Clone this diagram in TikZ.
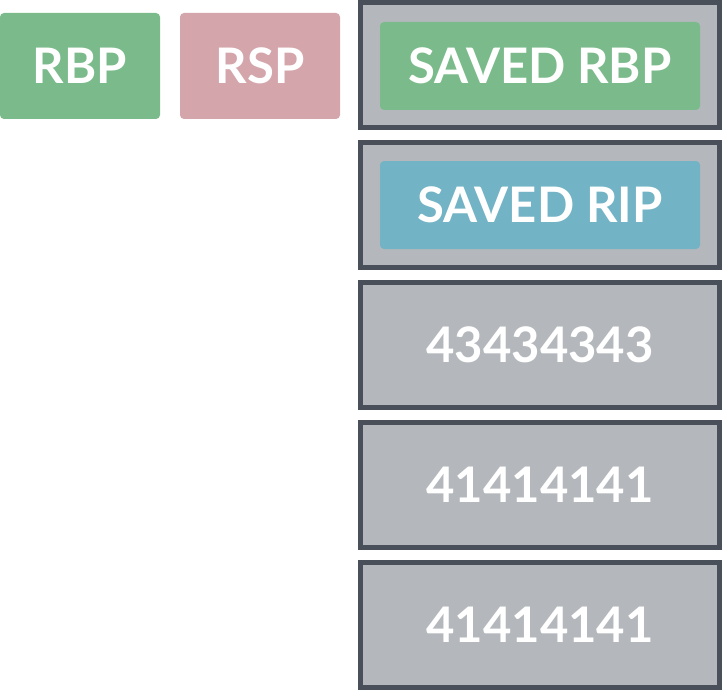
\documentclass[tikz,border=0pt]{standalone}
\usepackage{fontspec}
\setmainfont{Lato}
\definecolor{regGreen}{HTML}{7BBB8B}
\definecolor{regPink}{HTML}{D4A6AC}
\definecolor{ripBlue}{HTML}{72B3C5}
\definecolor{slotGray}{HTML}{B4B8BC}
\definecolor{slotEdge}{HTML}{4A5059}
\tikzset{
  bigtext/.style={text=white,font=\fontsize{49}{50}\selectfont\bfseries,
    inner sep=0pt,text height=35pt,text depth=0pt},
  reg/.style={bigtext,rounded corners=4pt,minimum width=160pt,minimum height=106pt},
  slot/.style={bigtext,draw=slotEdge,line width=5pt,fill=slotGray,minimum width=359pt,
    minimum height=125pt},
  saved/.style={bigtext,rounded corners=4pt,minimum width=320pt,minimum height=88pt}
}
\begin{document}
\begin{tikzpicture}[x=1pt,y=1pt]
  \useasboundingbox (0,0) rectangle (722,-690);

  \node[reg,fill=regGreen] (rbp) at (80,-66) {RBP};
  \node[reg,fill=regPink] (rsp) at (260,-66) {RSP};

  \node[slot] (slot1) at (540,-65) {};
  \node[slot] (slot2) at (540,-205) {};
  \foreach \i/\val in {3/43434343,4/41414141,5/41414141}
    \node[slot] (slot\i) at (540,{-65-140*(\i-1)}) {\val};

  \node[saved,fill=regGreen] (savedrbp) at ([yshift=-1pt]slot1) {SAVED RBP};
  \node[saved,fill=ripBlue] (savedrip) at (slot2) {SAVED RIP};
\end{tikzpicture}
\end{document}
